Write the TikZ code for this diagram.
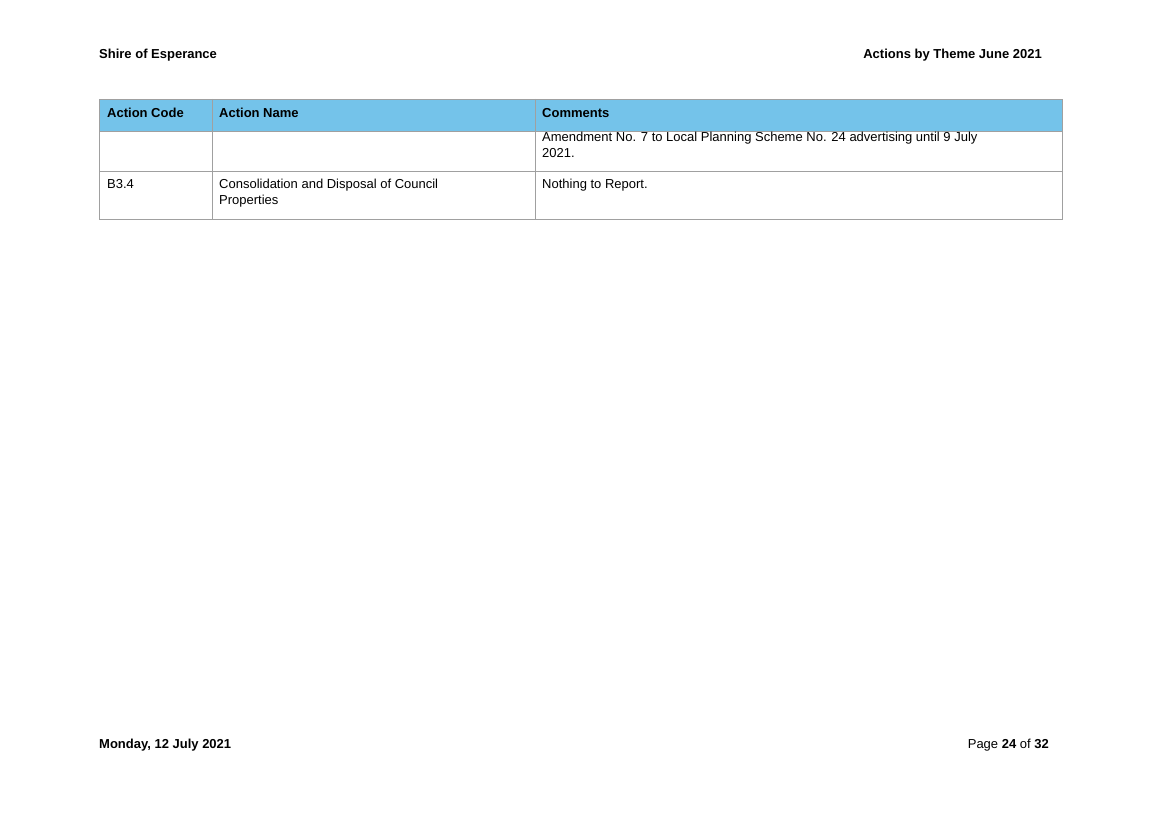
\documentclass[tikz,border=0pt]{standalone}
\usepackage{fontspec}
\setmainfont{Liberation Sans}
\definecolor{hdr}{HTML}{74C3EA}
\definecolor{grid}{HTML}{A0A0A0}
\begin{document}
\begin{tikzpicture}[x=1pt,y=-1pt,
  txt/.style={anchor=north west,inner sep=0pt,font=\fontsize{13}{15.5}\selectfont,align=left},
  btxt/.style={txt,font=\fontsize{13}{15.5}\selectfont\bfseries}]
\useasboundingbox (0,0) rectangle (1160,821);
\fill[white] (0,0) rectangle (1160,821);
\fill[hdr] (99,99) rectangle (1062,131);
\draw[grid,line width=0.8] (99,99) rectangle (1062,219);
\draw[grid,line width=0.8] (99,131) -- (1062,131) (99,171) -- (1062,171)
  (212,99) -- (212,219) (535,99) -- (535,219);
\node[btxt] (h1) at (99,49) {Shire of Esperance};
\node[btxt,anchor=north east] (h2) at (1042,49) {Actions by Theme June 2021};
\node[btxt] (c1) at (107,108) {Action Code};
\node[btxt] (c2) at (219,108) {Action Name};
\node[btxt] (c3) at (542,108) {Comments};
\node[txt] (r1) at (542,132) {Amendment No. 7 to Local Planning Scheme No. 24 advertising until 9 July\\2021.};
\node[txt] (r2a) at (107,179) {B3.4};
\node[txt] (r2b) at (219,179) {Consolidation and Disposal of Council\\Properties};
\node[txt] (r2c) at (542,179) {Nothing to Report.};
\node[btxt] (f1) at (99,739) {Monday, 12 July 2021};
\node[txt,anchor=north east] (f2) at (1049,739) {Page \textbf{24} of \textbf{32}};
\end{tikzpicture}
\end{document}
